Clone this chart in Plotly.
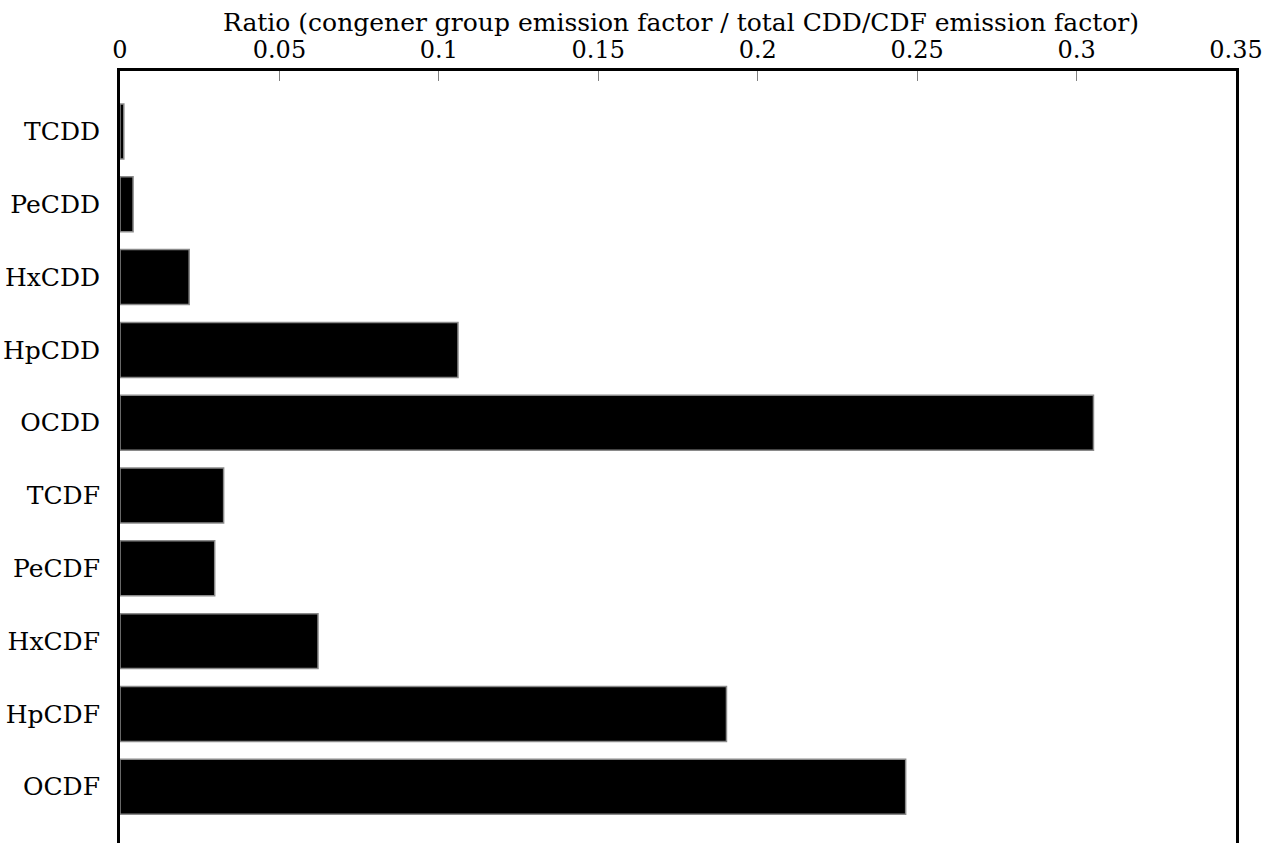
import plotly.graph_objects as go

# Congener groups, top to bottom
congeners = ["TCDD", "PeCDD", "HxCDD", "HpCDD", "OCDD",
             "TCDF", "PeCDF", "HxCDF", "HpCDF", "OCDF"]
# Ratio of congener group emission factor to total CDD/CDF emission factor
ratios = [0.0012, 0.0041, 0.0217, 0.106, 0.3053,
          0.0325, 0.0297, 0.0621, 0.1902, 0.2464]

x_ticks = [0, 0.05, 0.1, 0.15, 0.2, 0.25, 0.3, 0.35]
x_tick_text = ["0", "0.05", "0.1", "0.15", "0.2", "0.25", "0.3", "0.35"]

SERIF = "DejaVu Serif"

fig = go.Figure(
    go.Bar(
        x=ratios,
        y=list(range(len(congeners))),
        orientation="h",
        width=0.755,
        marker=dict(color="black", line=dict(color="#8a8a8a", width=1.5)),
    )
)

fig.update_layout(
    width=1268,
    height=843,
    margin=dict(l=120, r=32, t=71, b=0),
    plot_bgcolor="white",
    paper_bgcolor="white",
    showlegend=False,
    font=dict(family=SERIF, color="black", size=24),
    xaxis=dict(
        side="top",
        range=[0, 0.35],
        tickvals=x_ticks,
        ticktext=x_tick_text,
        ticks="inside",
        ticklen=10,
        tickwidth=1,
        tickcolor="#808080",
        showgrid=False,
        zeroline=False,
        showline=True,
        linecolor="black",
        linewidth=3,
        mirror=False,
        tickfont=dict(family=SERIF, size=24),
        ticklabelstandoff=0,
        fixedrange=True,
    ),
    yaxis=dict(
        range=[9.773, -0.831],
        tickvals=list(range(len(congeners))),
        ticktext=congeners,
        ticks="",
        ticklabelstandoff=12,
        showgrid=False,
        zeroline=False,
        showline=True,
        linecolor="black",
        linewidth=3,
        mirror=True,
        tickfont=dict(family=SERIF, size=25),
        automargin=False,
        fixedrange=True,
    ),
    annotations=[
        dict(
            text="Ratio (congener group emission factor / total CDD/CDF emission factor)",
            xref="paper", yref="paper",
            x=0.503, y=1.0, yshift=49,
            xanchor="center", yanchor="middle",
            showarrow=False,
            font=dict(family=SERIF, size=25, color="black"),
        )
    ],
)

fig.write_html("out.html")
